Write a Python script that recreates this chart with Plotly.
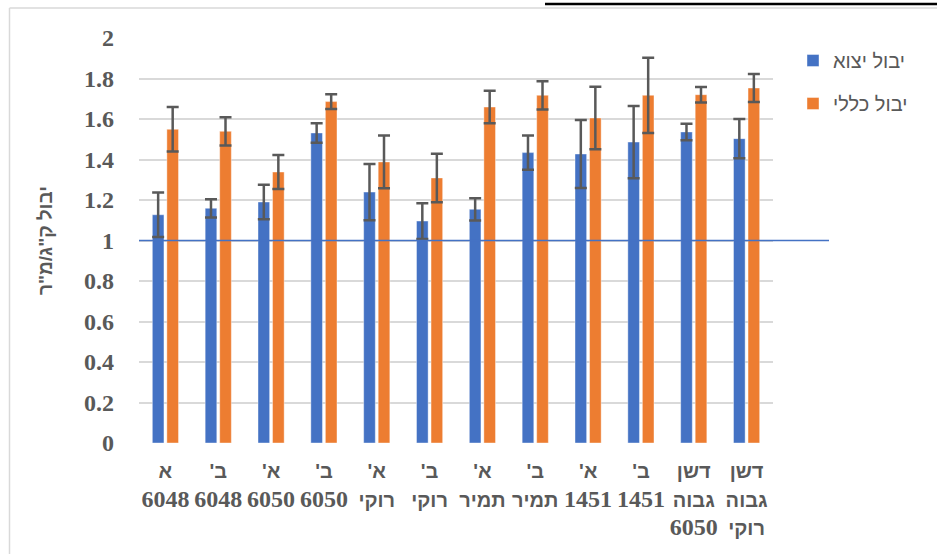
import plotly.graph_objects as go

RLM = "\u200f"
HEB_FONT = "Liberation Sans"

# display text for each tick (first line on top)
tick_lines = [
    ["א", "6048"],
    ["ב'", "6048"],
    ["א'", "6050"],
    ["ב'", "6050"],
    ["א'", "רוקי"],
    ["ב'", "רוקי"],
    ["א'", "תמיר"],
    ["ב'", "תמיר"],
    ["א'", "1451"],
    ["ב'", "1451"],
    ["דשן", "גבוה", "6050"],
    ["דשן", "גבוה", "רוקי"],
]


def fmt_line(s):
    if s.isdigit():
        return '<span style="font-size:24px">%s</span>' % s
    return '<span style="font-family:%s;font-size:20px">%s%s%s</span>' % (HEB_FONT, RLM, s, RLM)


tick_text = ["<br>".join(fmt_line(s) for s in lines) for lines in tick_lines]

export_yield = [1.127, 1.159, 1.190, 1.531, 1.239, 1.096, 1.154, 1.434, 1.427, 1.486, 1.536, 1.503]
export_err = [0.110, 0.045, 0.085, 0.048, 0.139, 0.088, 0.055, 0.085, 0.168, 0.178, 0.041, 0.097]
total_yield = [1.549, 1.539, 1.338, 1.686, 1.388, 1.309, 1.659, 1.717, 1.605, 1.717, 1.720, 1.753]
total_err = [0.110, 0.070, 0.084, 0.036, 0.130, 0.120, 0.080, 0.070, 0.154, 0.186, 0.038, 0.069]

series_names = ["יבול יצוא", "יבול כללי"]
y_ticks = [0, 0.2, 0.4, 0.6, 0.8, 1, 1.2, 1.4, 1.6, 1.8, 2]
y_tick_text = ["0", "0.2", "0.4", "0.6", "0.8", "1", "1.2", "1.4", "1.6", "1.8", "2"]
y_title = "יבול ק\"ג/מ\"ר"
ref_value = 1

x_idx = list(range(len(tick_lines)))

err_style = dict(type="data", visible=True, color="#595959", thickness=2.5, width=6)
FONT_BOLD = "Liberation Serif, serif"

fig = go.Figure()
fig.add_trace(go.Bar(
    x=x_idx, y=export_yield, name=series_names[0],
    marker=dict(color="#4472C4", line=dict(color="rgba(255,255,255,0.5)", width=0.8)),
    error_y=dict(array=export_err, **err_style),
    legendgroup="a",
))
fig.add_trace(go.Bar(
    x=x_idx, y=total_yield, name=series_names[1],
    marker=dict(color="#ED7D31", line=dict(color="rgba(255,255,255,0.5)", width=0.8)),
    error_y=dict(array=total_err, **err_style),
    legendgroup="b",
))

L, R, T, B = 139, 164, 38, 111
W, H = 937, 554
pw, ph = W - L - R, H - T - B


def px_to_paper_x(px):
    return (px - L) / pw


def px_to_paper_y(py):
    return (H - B - py) / ph


shapes = [
    # reference line at y=1
    dict(type="line", xref="paper", yref="y", x0=0, x1=px_to_paper_x(829),
         y0=ref_value, y1=ref_value, line=dict(color="#4472C4", width=1.5), layer="above"),
    # chart border (left & top)
    dict(type="line", xref="paper", yref="paper", x0=px_to_paper_x(9.5), x1=px_to_paper_x(9.5),
         y0=px_to_paper_y(8), y1=px_to_paper_y(560), line=dict(color="#D9D9D9", width=1.5)),
    dict(type="line", xref="paper", yref="paper", x0=px_to_paper_x(9.5), x1=px_to_paper_x(940),
         y0=px_to_paper_y(8), y1=px_to_paper_y(8), line=dict(color="#D9D9D9", width=1.5)),
    # black rule at the top (cut-off heading underline)
    dict(type="line", xref="paper", yref="paper", x0=px_to_paper_x(545), x1=px_to_paper_x(940),
         y0=px_to_paper_y(4), y1=px_to_paper_y(4), line=dict(color="black", width=2.5)),
]

fig.update_layout(
    width=W, height=H,
    margin=dict(l=L, r=R, t=T, b=B, autoexpand=False),
    paper_bgcolor="white", plot_bgcolor="white",
    barmode="group", bargap=0.45, bargroupgap=0.2,
    shapes=shapes,
    showlegend=True,
    legend=dict(
        x=px_to_paper_x(793), y=px_to_paper_y(41), xanchor="left", yanchor="top",
        font=dict(family="Liberation Sans", size=20, color="#595959"),
        traceorder="grouped", tracegroupgap=14,
        bgcolor="rgba(0,0,0,0)",
    ),
    xaxis=dict(
        tickmode="array", tickvals=x_idx, ticktext=tick_text,
        range=[-0.5, len(tick_lines) - 0.5],
        showgrid=False, zeroline=False, showline=False, ticks="",
        tickfont=dict(family=FONT_BOLD, size=22, color="#595959", weight="bold"),
        ticklabelstandoff=12,
        tickangle=0,
    ),
    yaxis=dict(
        range=[0, 2], tickmode="array", tickvals=y_ticks, ticktext=y_tick_text,
        showgrid=True, gridcolor="#D9D9D9", gridwidth=1.5,
        zeroline=False, showline=False, ticks="",
        tickfont=dict(family=FONT_BOLD, size=24, color="#595959", weight="bold"),
        ticklabelstandoff=24,
        title=dict(text=y_title, standoff=26,
                   font=dict(family=HEB_FONT, size=19, color="#595959", weight="bold")),
    ),
)

fig.write_html("out.html", config={"displayModeBar": False},
               post_script="document.body.style.margin='0';")
